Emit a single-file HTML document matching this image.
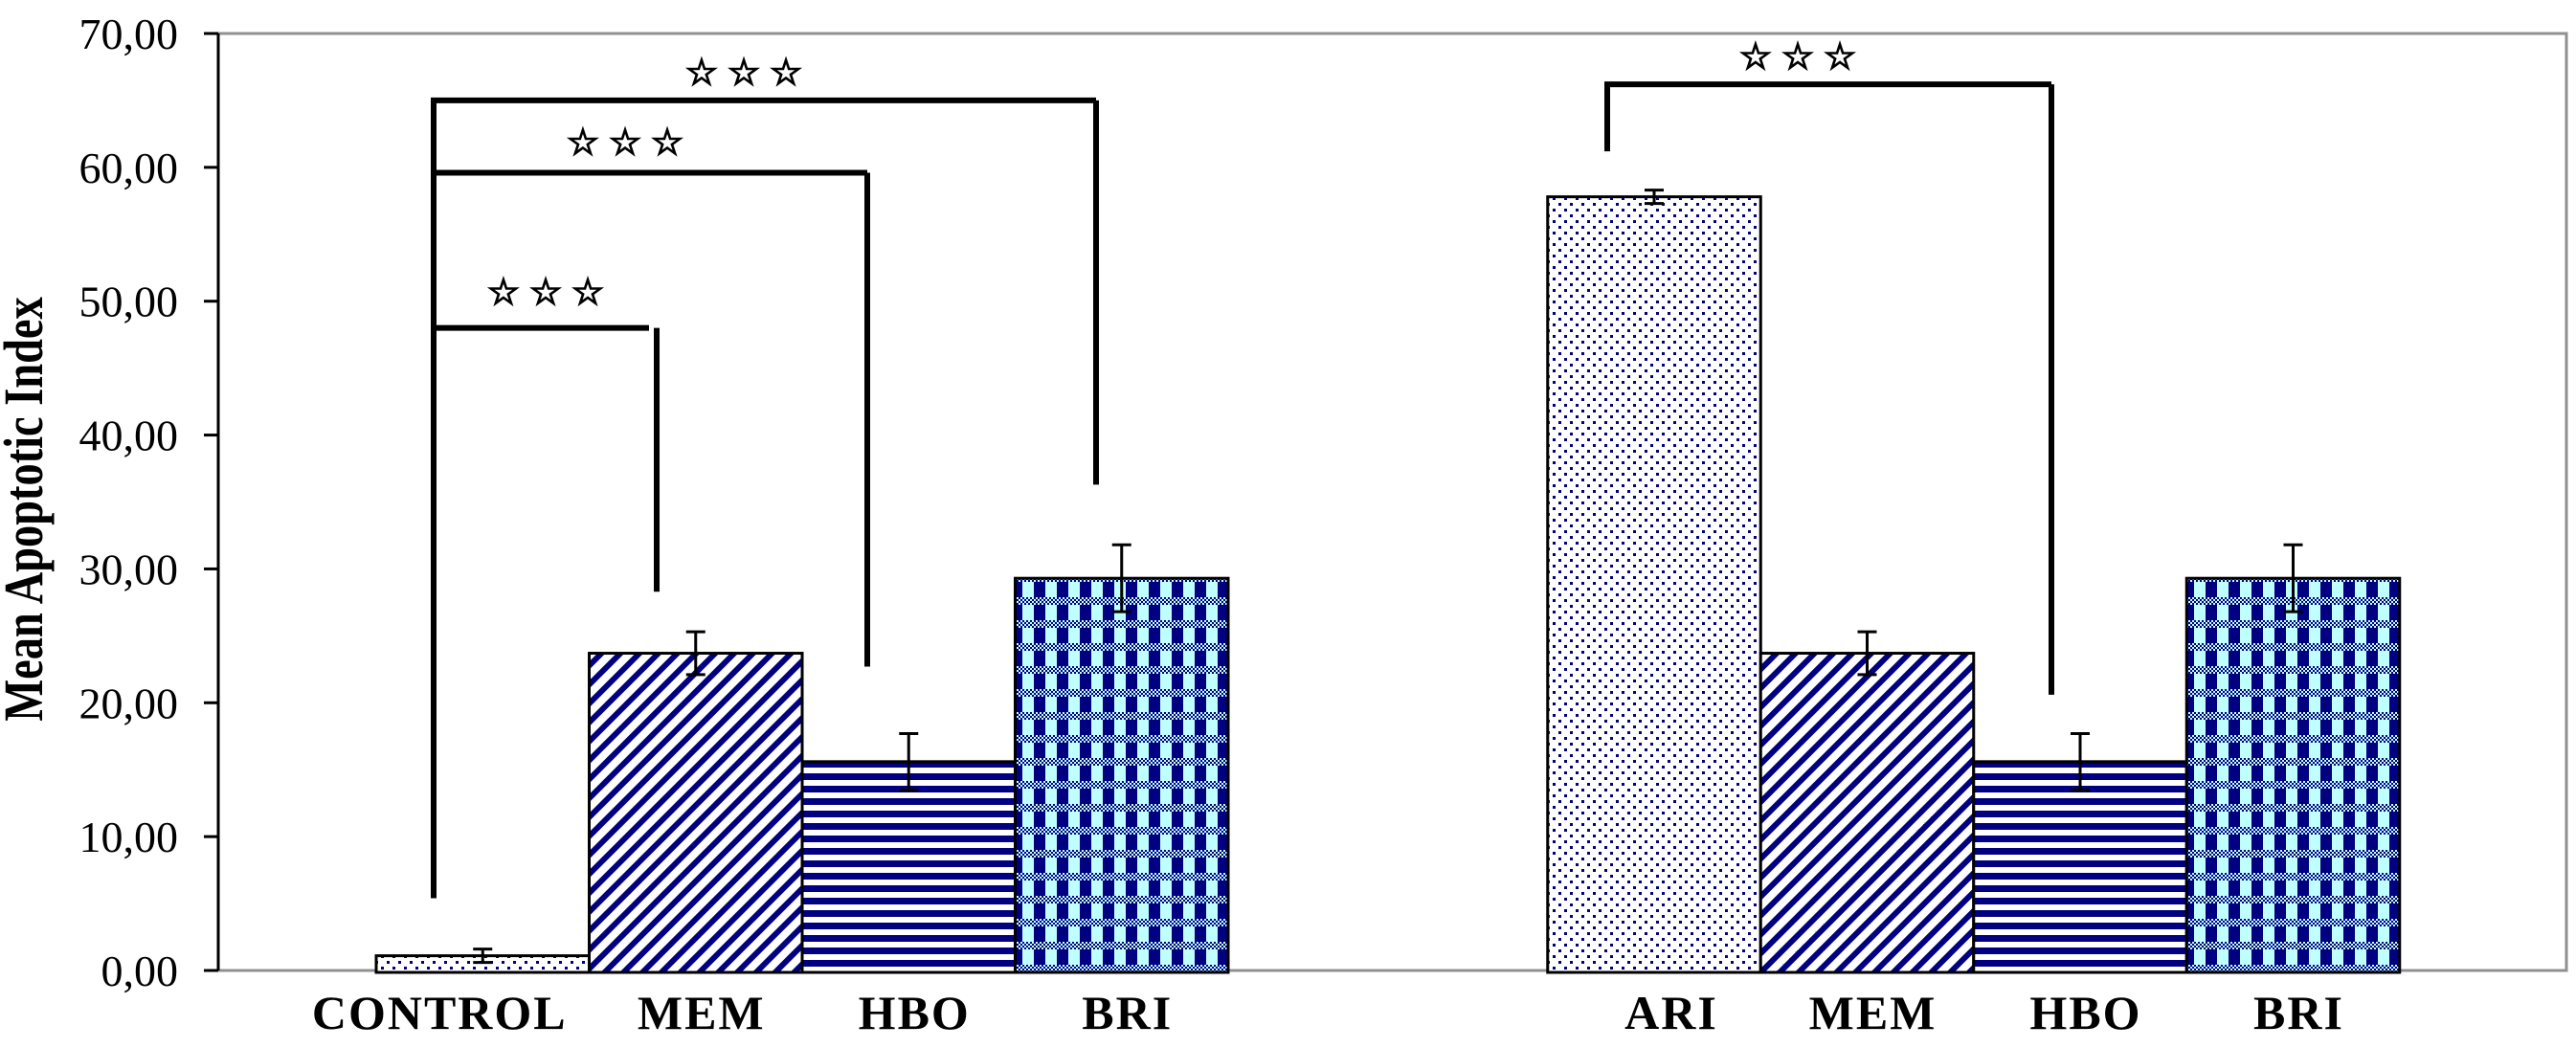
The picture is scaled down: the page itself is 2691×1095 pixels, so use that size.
<!DOCTYPE html>
<html><head><meta charset="utf-8"><style>
html,body{margin:0;padding:0;background:#fff;}
svg{display:block;}
text{font-family:"Liberation Serif",serif;}
</style></head><body>
<svg id="chart" width="2691" height="1095" viewBox="0 0 2691 1095" xmlns="http://www.w3.org/2000/svg">
<defs>
<pattern id="pDots" width="12" height="12" patternUnits="userSpaceOnUse">
<rect width="12" height="12" fill="#fff"/><rect x="2" y="2" width="3" height="3" fill="#000080"/><rect x="8" y="8" width="3" height="3" fill="#000080"/>
</pattern>
<pattern id="pDiag" width="14" height="14" patternUnits="userSpaceOnUse" patternTransform="rotate(45)">
<rect width="14" height="14" fill="#fff"/><rect width="6" height="14" fill="#000080"/>
</pattern>
<pattern id="pHoriz" width="14" height="13" patternUnits="userSpaceOnUse">
<rect width="14" height="13" fill="#fff"/><rect y="2" width="14" height="7" fill="#000080"/>
</pattern>
<pattern id="pCheck" width="24" height="24" patternUnits="userSpaceOnUse">
<rect width="24" height="24" fill="#c0ffff"/>
<rect x="0" y="0" width="12" height="24" fill="#000080"/>
<rect x="0" y="0" width="24" height="8" fill="#c0ffff"/>
<rect x="0" y="0" width="2" height="2" fill="#000080"/><rect x="4" y="0" width="2" height="2" fill="#000080"/><rect x="8" y="0" width="2" height="2" fill="#000080"/><rect x="12" y="0" width="2" height="2" fill="#000080"/><rect x="16" y="0" width="2" height="2" fill="#000080"/><rect x="20" y="0" width="2" height="2" fill="#000080"/>
<rect x="2" y="2" width="2" height="2" fill="#000080"/><rect x="6" y="2" width="2" height="2" fill="#000080"/><rect x="10" y="2" width="2" height="2" fill="#000080"/><rect x="14" y="2" width="2" height="2" fill="#000080"/><rect x="18" y="2" width="2" height="2" fill="#000080"/><rect x="22" y="2" width="2" height="2" fill="#000080"/>
<rect x="0" y="4" width="2" height="2" fill="#000080"/><rect x="4" y="4" width="2" height="2" fill="#000080"/><rect x="8" y="4" width="2" height="2" fill="#000080"/><rect x="12" y="4" width="2" height="2" fill="#000080"/><rect x="16" y="4" width="2" height="2" fill="#000080"/><rect x="20" y="4" width="2" height="2" fill="#000080"/>
<rect x="2" y="6" width="2" height="2" fill="#000080"/><rect x="6" y="6" width="2" height="2" fill="#000080"/><rect x="10" y="6" width="2" height="2" fill="#000080"/><rect x="14" y="6" width="2" height="2" fill="#000080"/><rect x="18" y="6" width="2" height="2" fill="#000080"/><rect x="22" y="6" width="2" height="2" fill="#000080"/>
</pattern>
</defs>
<rect x="228" y="35" width="2453" height="979" fill="none" stroke="#909090" stroke-width="3"/>
<g id="bars"></g>
<g id="brackets"></g>
<g id="axes"></g>
<text transform="translate(44,532) rotate(-90) scale(0.8,1)" text-anchor="middle" font-size="58" font-weight="bold">Mean Apoptotic Index</text>
</svg>
<script>
const categories = ["CONTROL","MEM","HBO","BRI","ARI","MEM","HBO","BRI"];
const values = [1.1, 23.7, 15.6, 29.3, 57.8, 23.7, 15.6, 29.3];
const errors = [0.5, 1.6, 2.1, 2.5, 0.5, 1.6, 2.1, 2.5];
const yTicks = [0,10,20,30,40,50,60,70];
const yTickLabels = ["0,00","10,00","20,00","30,00","40,00","50,00","60,00","70,00"];
const fills = ["pDots","pDiag","pHoriz","pCheck","pDots","pDiag","pHoriz","pCheck"];
const bracketFrom = [0, 0, 0, 4];
const bracketTo = [1, 2, 3, 6];
const bracketLevel = [48.0, 59.6, 65.0, 66.2];
const bracketLeftEnd = [5.4, 5.4, 5.4, 61.2];
const bracketRightEnd = [28.3, 22.7, 36.3, 20.6];
const starLevel = [50.7, 61.9, 67.1, 68.3];

const NS = "http://www.w3.org/2000/svg";
const y0 = 1014, yTop = 35, vMax = 70;
const y = v => y0 - (v / vMax) * (y0 - yTop);
const barW = 222.5, firstLeft = 393;
const slot = i => i < 4 ? i : i + 1.5;
const bx = i => firstLeft + slot(i) * barW;
const cx = i => bx(i) + barW / 2;
const labelShift = i => i === 0 ? -45 : (i === 4 ? 18 : 6);
function mk(tag, attrs, parent) { const e = document.createElementNS(NS, tag); for (const k in attrs) e.setAttribute(k, attrs[k]); parent.appendChild(e); return e; }

const axes = document.getElementById('axes');
const ax = mk('line', {x1:228,y1:35,x2:228,y2:y0,stroke:'#000','stroke-width':3}, axes);


yTicks.forEach((t, i) => {
  const tk = mk('line', {x1:213,x2:228,y1:y(t),y2:y(t),stroke:'#000','stroke-width':3}, axes);
  
  
  const tl = mk('text', {x:186,y:y(t)+16,'text-anchor':'end','font-size':46}, axes);
  
  
  tl.textContent = yTickLabels[i];
});

const bars = document.getElementById('bars');
categories.forEach((c, i) => {
  const r = mk('rect', {x:bx(i), y:y(values[i]), width:barW, height:y0 - y(values[i]) + 2, fill:'url(#'+fills[i]+')', stroke:'#000','stroke-width':3}, bars);
  
  
  const hi = y(values[i] + errors[i]), lo = y(values[i] - errors[i]);
  const eb = mk('path', {d:`M${cx(i)} ${hi}V${lo}M${cx(i)-10} ${hi}H${cx(i)+10}M${cx(i)-10} ${lo}H${cx(i)+10}`, stroke:'#000','stroke-width':3, fill:'none'}, bars);
  
  
  const lb = mk('text', {x:cx(i) + labelShift(i), y:1075, 'text-anchor':'middle','font-size':50,'font-weight':'bold','letter-spacing':2}, bars);
  
  
  lb.textContent = c;
});

const br = document.getElementById('brackets');
bracketFrom.forEach((f, k) => {
  const xL = f === 0 ? 453 : 1679;
  const xR = [686, 906, 1145, 2143][k];
  const p = mk('path', {d:`M${xL} ${y(bracketLeftEnd[k])}V${y(bracketLevel[k])}H${xR - (k===0?8:0)}M${xR} ${y(bracketLevel[k])}V${y(bracketRightEnd[k])}`, stroke:'#000','stroke-width':6, fill:'none'}, br);
  
  
  const st = mk('text', {x:[575,658,782,1883][k], y:y(starLevel[k]) + 13, 'text-anchor':'middle','font-size':38,'font-family':'DejaVu Sans, sans-serif','letter-spacing':'10', stroke:'#000','stroke-width':1.6}, br);
  
  
  st.textContent = "☆☆☆";
});
</script>
</body></html>
